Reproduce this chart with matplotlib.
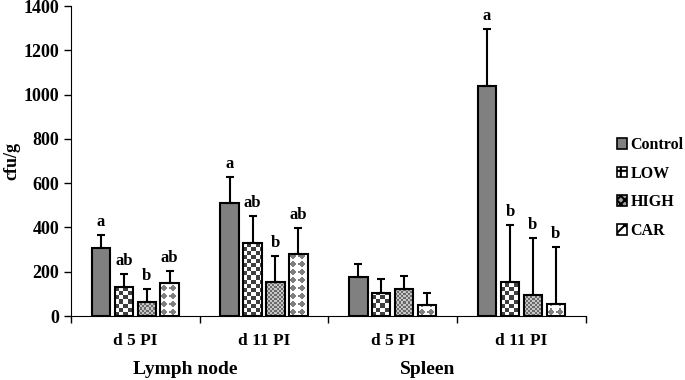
import numpy as np
import matplotlib.pyplot as plt
from matplotlib.patches import Patch

plt.rcParams['font.family'] = ['Liberation Serif', 'DejaVu Serif']
plt.rcParams['font.weight'] = 'bold'
plt.rcParams['hatch.linewidth'] = 1.5

groups = ['d 5 PI', 'd 11 PI', 'd 5 PI', 'd 11 PI']
organs = ['Lymph node', 'Spleen']
series = ['Control', 'LOW', 'HIGH', 'CAR']

# means per series, one value per group
control = [305, 510, 175, 1040]
low = [132, 331, 105, 154]
high = [65, 152, 123, 93]
car = [148, 279, 48, 56]

# upper error (SD)
control_err = [60, 120, 58, 256]
low_err = [58, 120, 61, 257]
high_err = [57, 120, 58, 261]
car_err = [55, 120, 57, 257]

letters = [
    ['a', 'a', '', 'a'],
    ['ab', 'ab', '', 'b'],
    ['b', 'b', '', 'b'],
    ['ab', 'ab', '', 'b'],
]

means = [control, low, high, car]
errs = [control_err, low_err, high_err, car_err]
kinds = ['solid', 'checker', 'dots', 'diamond']
leg_hatch = [None, '++', 'xxxx', 'xx']
leg_face = ['#808080', 'white', '#a0a0a0', 'white']


def pattern_fill(ax, patch, kind):
    # fill a bar with a pixel pattern, clipped to the bar
    x0, y0 = patch.get_x(), patch.get_y()
    w, h = patch.get_width(), patch.get_height()
    (px0, py0), (px1, py1) = ax.transData.transform([(x0, y0), (x0 + w, y0 + h)])
    W = max(int(round(px1 - px0)), 1)
    H = max(int(round(py1 - py0)), 1)
    yy, xx = np.mgrid[0:H, 0:W]
    if kind == 'checker':
        m = ((xx // 4 + yy // 4) % 2) == 0
        g = np.where(m, 0.25, 1.0)
    elif kind == 'dots':
        m = ((xx // 2 + yy // 2) % 2) == 0
        g = np.where(m, 0.42, 0.78)
    else:
        p = 8
        u = (xx % p) - p / 2 + 0.5
        v = (yy % p) - p / 2 + 0.5
        g = np.where(np.abs(u) + np.abs(v) <= 3.2, 0.5, 1.0)
    img = np.dstack([g, g, g])
    im = ax.imshow(img, extent=(x0, x0 + w, y0, y0 + h), origin='lower',
                   interpolation='nearest', aspect='auto', zorder=2.5)
    im.set_clip_path(patch)


fig = plt.figure(figsize=(6.85, 3.8), dpi=100)
ax = fig.add_axes([0.1036, 0.1684, 0.7515, 0.8156])
ax.set_xlim(0, 4)
ax.set_ylim(0, 1400)

x = np.arange(len(groups)) + 0.5
width = 0.143
step = 0.178
for j in range(4):
    xs = x + (j - 1.5) * step
    if kinds[j] == 'solid':
        ax.bar(xs, means[j], width, color='#808080', edgecolor='black', linewidth=1.5, zorder=3)
    else:
        fills = ax.bar(xs, means[j], width, color='white', linewidth=0, zorder=2)
        for p in fills:
            pattern_fill(ax, p, kinds[j])
        ax.bar(xs, means[j], width, fill=False, edgecolor='black', linewidth=1.5, zorder=3)
    ax.errorbar(xs, means[j], yerr=[np.zeros(4), errs[j]], fmt='none',
                ecolor='black', elinewidth=1.5, capsize=3, capthick=1.5, zorder=4)
    for k in range(4):
        if letters[j][k]:
            ax.text(xs[k], means[j][k] + errs[j][k] + 22, letters[j][k],
                    ha='center', va='bottom', fontsize=12, fontweight='bold')

ax.set_xlim(0, 4)
ax.set_ylim(0, 1400)
ax.set_yticks(range(0, 1401, 200))
ax.set_xticks(range(5))
ax.set_xticklabels([])
ax.set_xticks(x, minor=True)
ax.set_xticklabels(groups, minor=True)
ax.tick_params(axis='x', which='minor', length=0, labelsize=12.5, pad=12)
ax.tick_params(axis='x', which='major', length=5, width=1, direction='out')
ax.tick_params(axis='y', length=5, width=1, labelsize=13)
for lab in ax.get_yticklabels() + ax.get_xticklabels(minor=True):
    lab.set_fontweight('bold')
ax.spines['top'].set_visible(False)
ax.spines['right'].set_visible(False)
ax.set_ylabel('cfu/g', fontsize=13, fontweight='bold')
ax.yaxis.set_label_coords(-0.098, 0.5)

organ_x = [0.885, 2.77]
for name, ox in zip(organs, organ_x):
    ax.text(ox, -243, name, ha='center', va='center', fontsize=14,
            fontweight='bold', clip_on=False)

handles = []
for j in range(4):
    handles.append(Patch(facecolor=leg_face[j], edgecolor='black',
                         hatch=leg_hatch[j], linewidth=1.2))
leg = ax.legend(handles, series, loc='center left', bbox_to_anchor=(1.045, 0.413),
                frameon=False, borderpad=0, handlelength=0.65, handleheight=0.65,
                handletextpad=0.2, labelspacing=0.8, prop={'weight': 'bold', 'size': 11.5})

fig.savefig('out.png', dpi=100)
